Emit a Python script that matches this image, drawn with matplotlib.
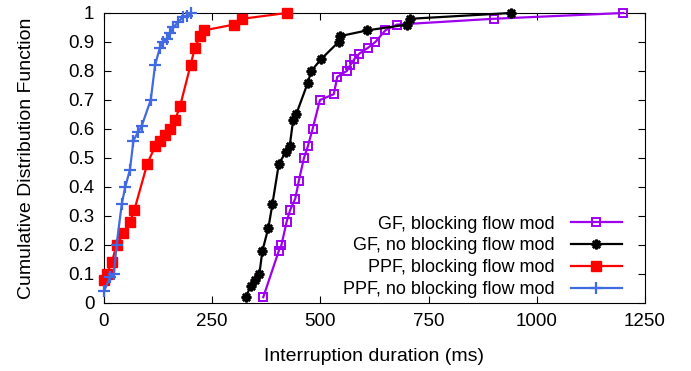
import matplotlib
matplotlib.use("Agg")
import matplotlib.pyplot as plt

plt.rcParams['font.family'] = ['Liberation Sans', 'DejaVu Sans']

# GF, blocking flow mod
gf_block_x = [368, 404, 410, 422, 430, 442, 450, 462, 471, 482, 499, 531, 539, 561, 569, 578, 590, 610, 627, 650, 677, 900, 1200]
gf_block_y = [0.02, 0.18, 0.20, 0.28, 0.32, 0.36, 0.42, 0.50, 0.54, 0.60, 0.70, 0.72, 0.78, 0.80, 0.82, 0.84, 0.86, 0.88, 0.90, 0.94, 0.96, 0.98, 1.0]

# GF, no blocking flow mod
gf_noblock_x = [328, 339, 350, 359, 366, 380, 389, 404, 420, 429, 437, 444, 471, 479, 501, 542, 545, 608, 700, 708, 940]
gf_noblock_y = [0.02, 0.06, 0.08, 0.10, 0.18, 0.26, 0.34, 0.48, 0.52, 0.54, 0.63, 0.65, 0.76, 0.80, 0.84, 0.90, 0.92, 0.94, 0.96, 0.98, 1.0]

# PPF, blocking flow mod
ppf_block_x = [0, 6, 18, 29, 45, 60, 70, 100, 118, 129, 141, 152, 164, 176, 200, 210, 222, 231, 300, 320, 422]
ppf_block_y = [0.08, 0.10, 0.14, 0.20, 0.24, 0.28, 0.32, 0.48, 0.54, 0.56, 0.58, 0.60, 0.63, 0.68, 0.82, 0.88, 0.92, 0.94, 0.96, 0.98, 1.0]

# PPF, no blocking flow mod
ppf_noblock_x = [0, 14, 23, 29, 41, 49, 60, 68, 79, 87, 108, 118, 129, 137, 146, 152, 160, 172, 182, 191, 200]
ppf_noblock_y = [0.04, 0.09, 0.10, 0.20, 0.34, 0.40, 0.46, 0.56, 0.59, 0.61, 0.70, 0.82, 0.88, 0.90, 0.91, 0.93, 0.95, 0.97, 0.985, 0.99, 1.0]

labels = ["GF, blocking flow mod", "GF, no blocking flow mod",
          "PPF, blocking flow mod", "PPF, no blocking flow mod"]
x_ticks = [0, 250, 500, 750, 1000, 1250]
y_ticks = [0, 0.1, 0.2, 0.3, 0.4, 0.5, 0.6, 0.7, 0.8, 0.9, 1.0]
y_ticklabels = ["0", "0.1", "0.2", "0.3", "0.4", "0.5", "0.6", "0.7", "0.8", "0.9", "1"]

fig = plt.figure(figsize=(6.91, 3.71), dpi=100)
ax = fig.add_axes([0.1505, 0.1833, 0.7829, 0.7817])

ax.plot(gf_block_x, gf_block_y, color='#a000f0', lw=1.6, marker='s', ms=5.5,
        mfc='none', mew=1.4, label=labels[0], clip_on=False, zorder=3)
ax.plot(gf_noblock_x, gf_noblock_y, color='black', lw=1.6, marker=(8, 2, 0), ms=7,
        mew=1.8, label=labels[1], clip_on=False, zorder=3)
ax.plot(ppf_block_x, ppf_block_y, color='#ff0000', lw=1.6, marker='s', ms=6.5,
        label=labels[2], clip_on=False, zorder=3)
ax.plot(ppf_noblock_x, ppf_noblock_y, color='#4169e1', lw=1.6, marker='+', ms=8,
        mew=1.6, label=labels[3], clip_on=False, zorder=3)

ax.set_xlim(0, 1250)
ax.set_ylim(0, 1)
ax.set_xticks(x_ticks)
ax.set_yticks(y_ticks)
ax.set_yticklabels(y_ticklabels)
ax.tick_params(direction='in', top=True, right=True, length=5, labelsize=13.5, pad=7)
ax.set_xlabel("Interruption duration (ms)", fontsize=14, labelpad=13)
ax.set_ylabel("Cumulative Distribution Function", fontsize=14, labelpad=24)

ax.legend(loc='lower right', bbox_to_anchor=(0.98, -0.027), frameon=False,
          markerfirst=False, fontsize=13, handlelength=2.8, labelspacing=0.27,
          handletextpad=0.9, borderpad=0.2)

fig.savefig("out.png", dpi=100)
